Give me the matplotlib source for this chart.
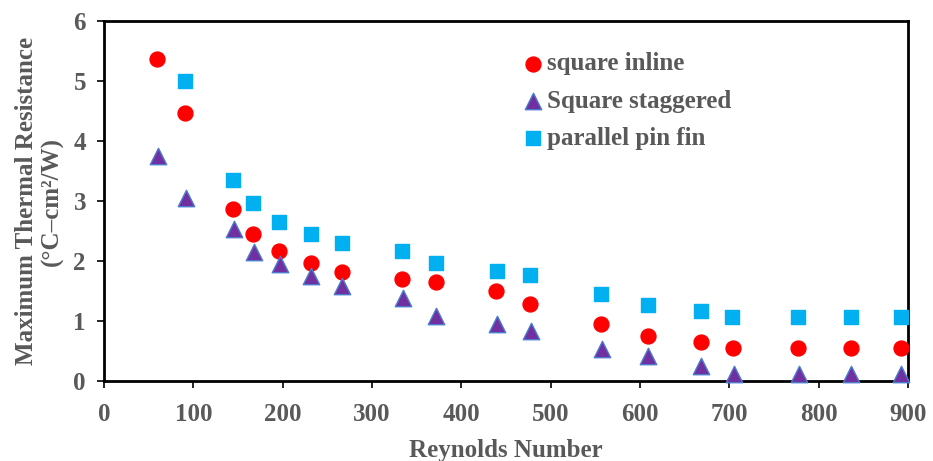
import matplotlib
matplotlib.use("Agg")
import matplotlib.pyplot as plt

re_inline = [59, 91, 144, 167, 196, 232, 266, 334, 372, 439, 477, 556, 609, 668, 704, 777, 836, 892]
r_inline = [5.37, 4.47, 2.87, 2.45, 2.17, 1.97, 1.82, 1.70, 1.65, 1.50, 1.28, 0.95, 0.75, 0.65, 0.55, 0.55, 0.55, 0.55]

re_stag = [60, 92, 145, 168, 197, 232, 266, 335, 372, 440, 478, 557, 609, 668, 705, 778, 836, 892]
r_stag = [3.75, 3.05, 2.53, 2.15, 1.95, 1.75, 1.58, 1.38, 1.08, 0.95, 0.83, 0.53, 0.42, 0.25, 0.12, 0.12, 0.12, 0.12]

re_par = [91, 144, 167, 196, 232, 266, 334, 372, 440, 477, 556, 609, 668, 703, 777, 836, 892]
r_par = [5.0, 3.35, 2.97, 2.65, 2.45, 2.30, 2.17, 1.97, 1.83, 1.77, 1.45, 1.27, 1.17, 1.07, 1.07, 1.07, 1.07]

x_ticks = [0, 100, 200, 300, 400, 500, 600, 700, 800, 900]
y_ticks = [0, 1, 2, 3, 4, 5, 6]

grey = "#595959"
plt.rcParams['font.family'] = ['Liberation Serif', 'DejaVu Serif']

fig = plt.figure(figsize=(9.33, 4.61), dpi=100)
ax = fig.add_axes([0.1115, 0.1735, 0.9732 - 0.1115, 0.9544 - 0.1735])

ax.scatter(re_inline, r_inline, s=115, marker='o', color='#FF0000', label='square inline', zorder=3, clip_on=False)
ax.scatter(re_stag, r_stag, s=140, marker='^', facecolor='#7030A0', edgecolor='#4A7CD0', linewidth=1.0,
           label='Square staggered', zorder=3, clip_on=False)
ax.scatter(re_par, r_par, s=115, marker='s', color='#00B0F0', label='parallel pin fin', zorder=3, clip_on=False)

ax.set_xlim(0, 900)
ax.set_ylim(0, 6)
ax.set_xticks(x_ticks)
ax.set_yticks(y_ticks)
for s in ax.spines.values():
    s.set_linewidth(2.0)
    s.set_color('black')
ax.tick_params(direction='out', length=5, width=1.2, colors='black', labelcolor=grey, labelsize=18)
ax.tick_params(axis='x', pad=11)
ax.tick_params(axis='y', pad=8)
for lbl in ax.get_xticklabels() + ax.get_yticklabels():
    lbl.set_fontweight('bold')

ax.set_xlabel('Reynolds Number', fontsize=18, fontweight='bold', color=grey, labelpad=9)
ax.set_ylabel('Maximum Thermal Resistance\n(\u00b0C\u2013cm\u00b2/W)', fontsize=18, fontweight='bold', color=grey,
              labelpad=7, linespacing=1.15)

leg = ax.legend(loc='upper left', bbox_to_anchor=(0.524, 0.913), frameon=False, fontsize=18,
                handletextpad=0.25, labelspacing=0.57, handlelength=0.6, borderaxespad=0, borderpad=0)
for t in leg.get_texts():
    t.set_fontweight('bold')
    t.set_color(grey)

fig.savefig('out.png', dpi=100)
